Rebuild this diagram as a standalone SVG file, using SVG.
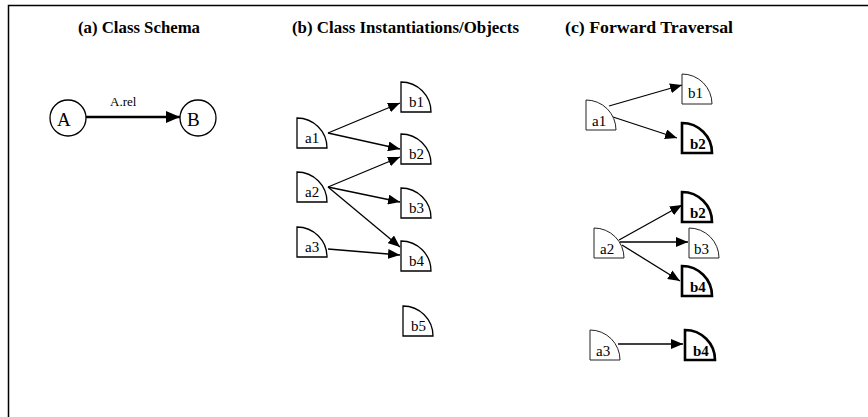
<svg xmlns="http://www.w3.org/2000/svg" xmlns:xlink="http://www.w3.org/1999/xlink" width="868" height="417" viewBox="0 0 868 417">
  <style>
    text { font-family: 'Liberation Serif', 'DejaVu Serif', serif; fill: #000; }
    .title { font-weight: bold; font-size: 16px; }
    .lbl { font-size: 15px; }
    .bl { font-weight: bold; }
    .obj { fill: #fff; stroke: #000; stroke-width: 1.3; }
    .thin { stroke-width: 1; stroke: #222; }
    .heavy { stroke-width: 2.6; }
    .edge { fill: none; stroke: #000; stroke-width: 1.3; marker-end: url(#arr); }
    .cls { fill: #fff; stroke: #000; stroke-width: 1.3; }
  </style>
  <defs>
    <!-- quarter-disc object glyph, 30 x 30, anchored at its top-left -->
    <path id="q" d="M0,30 V0 A30 30 0 0 1 30,30 Z"/>
    <marker id="arr" viewBox="0 0 12 10" refX="12" refY="5" markerWidth="12" markerHeight="10" markerUnits="userSpaceOnUse" orient="auto">
      <path d="M0,0 L12,5 L0,10 Z" fill="#000"/>
    </marker>
    <marker id="arrBig" viewBox="0 0 14 12" refX="14" refY="6" markerWidth="14" markerHeight="12" markerUnits="userSpaceOnUse" orient="auto">
      <path d="M0,0 L14,6 L0,12 Z" fill="#000"/>
    </marker>
  </defs>

  <rect width="868" height="417" fill="#fff"/>
  <!-- frame: top and left rules -->
  <path d="M8.5,417 V5.5 H868" fill="none" stroke="#000" stroke-width="1.5"/>

  <!-- panel titles -->
  <text class="title" x="78" y="33" textLength="122" lengthAdjust="spacingAndGlyphs">(a) Class Schema</text>
  <text class="title" x="292" y="33" textLength="227" lengthAdjust="spacingAndGlyphs">(b) Class Instantiations/Objects</text>
  <text class="title" x="565" y="33" textLength="168" lengthAdjust="spacingAndGlyphs">(c) Forward Traversal</text>

  <!-- connectors -->
  <g id="connectors">
    <!-- (a) schema relation -->
    <line x1="86" y1="117" x2="180" y2="117" fill="none" stroke="#000" stroke-width="2.6" marker-end="url(#arrBig)"/>
    <text x="110" y="106" font-size="13">A.rel</text>
    <!-- (b) instances -->
    <line class="edge" x1="328" y1="133" x2="400" y2="103"/>
    <line class="edge" x1="328" y1="133" x2="400" y2="149"/>
    <line class="edge" x1="328" y1="187" x2="400" y2="157"/>
    <line class="edge" x1="328" y1="187" x2="400" y2="202"/>
    <line class="edge" x1="328" y1="187" x2="400" y2="247"/>
    <line class="edge" x1="328" y1="249" x2="400" y2="255"/>
    <!-- (c) traversal -->
    <line class="edge" x1="609" y1="106" x2="682" y2="85"/>
    <line class="edge" x1="613" y1="117" x2="677" y2="138"/>
    <line class="edge" x1="619" y1="240" x2="682" y2="205"/>
    <line class="edge" x1="620" y1="242" x2="688" y2="242"/>
    <line class="edge" x1="622" y1="245" x2="680" y2="281"/>
    <line class="edge" x1="618" y1="344" x2="683" y2="344"/>
  </g>

  <!-- (a) class nodes -->
  <g id="classA">
    <circle class="cls" cx="68" cy="118" r="18"/>
    <text x="57" y="126" font-size="19">A</text>
  </g>
  <g id="classB">
    <circle class="cls" cx="198" cy="118" r="18"/>
    <text x="187" y="126" font-size="19">B</text>
  </g>

  <!-- (b) object nodes -->
  <g id="b-a1" transform="translate(297,118)"><use xlink:href="#q" class="obj"/><text class="lbl" x="8" y="25">a1</text></g>
  <g id="b-a2" transform="translate(297,172)"><use xlink:href="#q" class="obj"/><text class="lbl" x="8" y="25">a2</text></g>
  <g id="b-a3" transform="translate(297,227)"><use xlink:href="#q" class="obj"/><text class="lbl" x="8" y="25">a3</text></g>
  <g id="b-b1" transform="translate(401,82)"><use xlink:href="#q" class="obj"/><text class="lbl" x="8" y="25">b1</text></g>
  <g id="b-b2" transform="translate(401,134)"><use xlink:href="#q" class="obj"/><text class="lbl" x="8" y="25">b2</text></g>
  <g id="b-b3" transform="translate(401,188)"><use xlink:href="#q" class="obj"/><text class="lbl" x="8" y="25">b3</text></g>
  <g id="b-b4" transform="translate(401,241)"><use xlink:href="#q" class="obj"/><text class="lbl" x="8" y="25">b4</text></g>
  <g id="b-b5" transform="translate(403,306)"><use xlink:href="#q" class="obj"/><text class="lbl" x="8" y="25">b5</text></g>

  <!-- (c) traversal nodes -->
  <g id="c-a1" transform="translate(586,100)"><use xlink:href="#q" class="obj thin"/><text class="lbl" x="6" y="26">a1</text></g>
  <g id="c-b1" transform="translate(682,74)"><use xlink:href="#q" class="obj thin"/><text class="lbl" x="6" y="24">b1</text></g>
  <g id="c-b2" transform="translate(682,123)"><use xlink:href="#q" class="obj heavy"/><text class="lbl bl" x="8" y="26">b2</text></g>
  <g id="c-a2" transform="translate(594,228)"><use xlink:href="#q" class="obj thin"/><text class="lbl" x="6" y="26">a2</text></g>
  <g id="c-b2b" transform="translate(682,192)"><use xlink:href="#q" class="obj heavy"/><text class="lbl bl" x="8" y="26">b2</text></g>
  <g id="c-b3" transform="translate(689,228)"><use xlink:href="#q" class="obj thin"/><text class="lbl" x="5" y="26">b3</text></g>
  <g id="c-b4" transform="translate(682,266)"><use xlink:href="#q" class="obj heavy"/><text class="lbl bl" x="8" y="26">b4</text></g>
  <g id="c-a3" transform="translate(590,330)"><use xlink:href="#q" class="obj thin"/><text class="lbl" x="6" y="26">a3</text></g>
  <g id="c-b4b" transform="translate(685,330)"><use xlink:href="#q" class="obj heavy"/><text class="lbl bl" x="8" y="26">b4</text></g>
</svg>
